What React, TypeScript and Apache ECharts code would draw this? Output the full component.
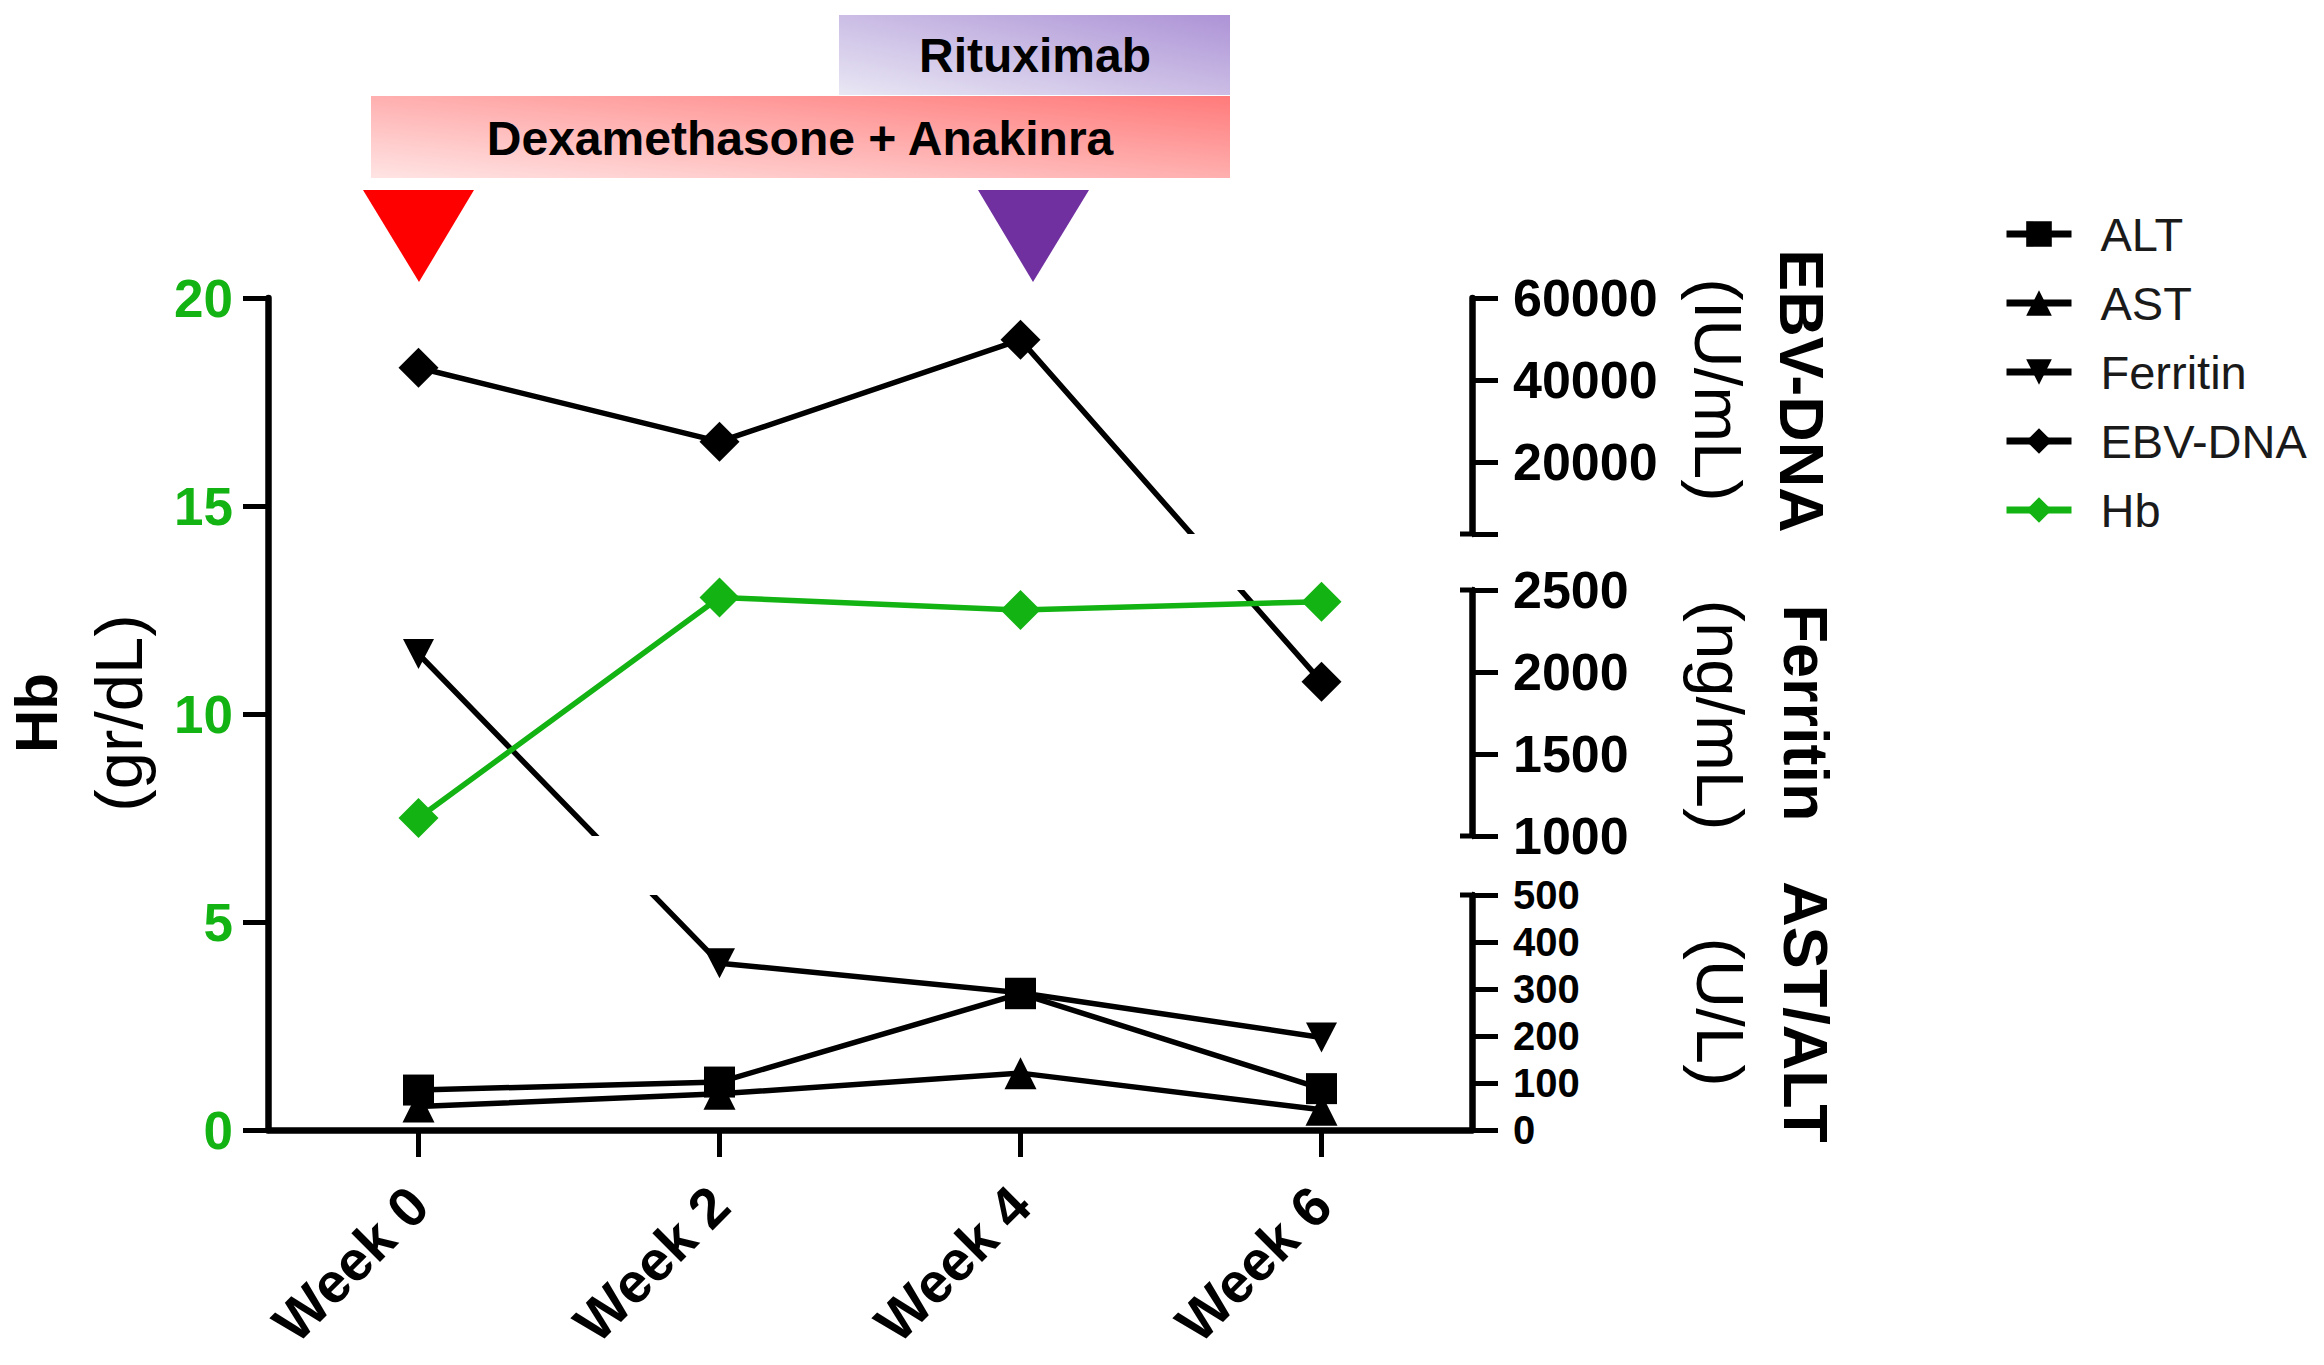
import React, { useEffect, useRef } from "react";
import * as echarts from "echarts";

// ---------------- data ----------------
const CATEGORIES = ["Week 0", "Week 2", "Week 4", "Week 6"];
const HB_VALUES = [7.5, 12.8, 12.5, 12.7];
const ALT_VALUES = [85, 102, 290, 88];
const AST_VALUES = [50, 77, 121, 43];
const FERRITIN_VALUES = [2110, 355, 292, 197];
const EBV_VALUES = [43000, 25000, 49800, 1940];

const HB_RANGE = { min: 0, max: 20, interval: 5 };
const LIVER_RANGE = { min: 0, max: 500 };
const LIVER_TICKS = [0, 100, 200, 300, 400, 500];
const LIVER_LABELS_EVEN = [0, 200, 400];
const LIVER_LABELS_ODD = [100, 300, 500];
const FERRITIN_RANGE = { min: 1000, max: 2500, interval: 500 };
const EBV_RANGE = { min: 2500, max: 60000 };
const EBV_TICKS = [2500, 20000, 40000, 60000];
const EBV_LABELS = [20000, 40000, 60000];

// ---------------- layout ----------------
const W = 2324;
const H = 1365;
const FONT = "'Liberation Sans', Arial, Helvetica, sans-serif";
const GREEN = "#12B312";
const PLOT = { left: 268, right: 1472, top: 298, bottom: 1130 };
const PLOT_W = PLOT.right - PLOT.left;
const PLOT_H = PLOT.bottom - PLOT.top;

// segmented right axis: value range -> screen band
const SEGMENTS = [
  { ...LIVER_RANGE, top: 895, bottom: 1130 },
  { ...FERRITIN_RANGE, top: 590, bottom: 836 },
  { ...EBV_RANGE, top: 298, bottom: 534 },
];

// maps a right-axis value onto the continuous (hidden) segmented scale
function segmentedScale(v: number): number {
  for (let i = 0; i < SEGMENTS.length; i++) {
    const s = SEGMENTS[i];
    const lo = PLOT.bottom - s.bottom;
    const hi = PLOT.bottom - s.top;
    if (v <= s.max || i === SEGMENTS.length - 1) {
      if (v >= s.min || i === 0) {
        return lo + ((v - s.min) / (s.max - s.min)) * (hi - lo);
      }
      const p = SEGMENTS[i - 1];
      const plo = PLOT.bottom - p.top;
      return plo + ((v - p.max) / (s.min - p.max)) * (lo - plo);
    }
  }
  return 0;
}

const TICK_W = 5;
const AXIS_W = 6.5;
const plain = (v: number) => String(v);

function labelStyle(fontSize: number, extra: any = {}) {
  return {
    show: true,
    margin: 41,
    color: "#000",
    fontSize,
    fontWeight: "bold",
    fontFamily: FONT,
    formatter: plain,
    hideOverlap: false,
    showMinLabel: true,
    showMaxLabel: true,
    ...extra,
  };
}

function rightAxis(gridIndex: number, seg: any, extra: any) {
  return {
    type: "value",
    gridIndex,
    position: "right",
    min: seg.min,
    max: seg.max,
    axisLine: { show: true, onZero: false, lineStyle: { color: "#000", width: AXIS_W } },
    axisTick: { show: true, inside: false, length: 26, lineStyle: { color: "#000", width: TICK_W } },
    axisLabel: labelStyle(52),
    splitLine: { show: false },
    ...extra,
  };
}

function series(name: string, values: number[], symbol: string, size: any, color: string, right: boolean, z: number) {
  return {
    type: "line",
    name,
    xAxisIndex: 0,
    yAxisIndex: right ? 1 : 0,
    data: right ? values.map(segmentedScale) : values,
    symbol,
    symbolSize: size,
    showSymbol: true,
    clip: true,
    z,
    itemStyle: { color, opacity: 1 },
    lineStyle: { color, width: 5.5 },
    emphasis: { disabled: true },
  };
}

function vText(text: string, x: number, y: number, rot: number, bold: boolean, size: number) {
  return {
    type: "text",
    x,
    y,
    rotation: rot,
    z: 10,
    style: {
      text,
      fill: "#000",
      fontSize: size,
      fontWeight: bold ? "bold" : "normal",
      fontFamily: FONT,
      align: "center",
      verticalAlign: "middle",
      textAlign: "center",
      textVerticalAlign: "middle",
    },
  };
}

function buildOption() {
  const grids = [
    { left: PLOT.left, top: PLOT.top, width: PLOT_W, height: PLOT_H, containLabel: false, outerBoundsMode: "none" },
    ...SEGMENTS.map((s) => ({
      left: PLOT.left,
      top: s.top,
      width: PLOT_W,
      height: s.bottom - s.top,
      containLabel: false,
      outerBoundsMode: "none",
    })),
  ];

  const gaps: any[] = [];
  for (let i = 0; i < SEGMENTS.length - 1; i++) {
    const lower = SEGMENTS[i];
    const upper = SEGMENTS[i + 1];
    gaps.push({
      type: "rect",
      z: 3,
      shape: { x: PLOT.left + 4, y: upper.bottom, width: PLOT_W - 4, height: lower.top - upper.bottom },
      style: { fill: "#ffffff" },
    });
  }
  const caps: any[] = [];
  const capYs = [SEGMENTS[0].top, SEGMENTS[1].bottom, SEGMENTS[1].top, SEGMENTS[2].bottom];
  capYs.forEach((y) =>
    caps.push({
      type: "line",
      z: 6,
      shape: { x1: PLOT.right - 12, y1: y, x2: PLOT.right + 3, y2: y },
      style: { stroke: "#000", lineWidth: TICK_W },
    })
  );

  return {
    animation: false,
    backgroundColor: "#ffffff",
    textStyle: { fontFamily: FONT },
    grid: grids,
    xAxis: [
      {
        type: "category",
        gridIndex: 0,
        data: CATEGORIES,
        boundaryGap: true,
        axisLine: { show: true, onZero: false, lineStyle: { color: "#000", width: AXIS_W } },
        axisTick: { show: true, alignWithLabel: true, inside: false, length: 27, lineStyle: { color: "#000", width: TICK_W } },
        axisLabel: {
          interval: 0,
          rotate: 45,
          margin: 66,
          color: "#000",
          fontSize: 56,
          fontWeight: "bold",
          fontFamily: FONT,
        },
        splitLine: { show: false },
      },
      ...SEGMENTS.map((_, i) => ({ type: "category", gridIndex: i + 1, data: CATEGORIES, show: false })),
    ],
    yAxis: [
      {
        type: "value",
        gridIndex: 0,
        position: "left",
        min: HB_RANGE.min,
        max: HB_RANGE.max,
        interval: HB_RANGE.interval,
        axisLine: { show: true, onZero: false, lineStyle: { color: "#000", width: AXIS_W } },
        axisTick: { show: true, inside: false, length: 25, lineStyle: { color: "#000", width: TICK_W } },
        axisLabel: {
          margin: 35,
          color: GREEN,
          fontSize: 53,
          fontWeight: "bold",
          fontFamily: FONT,
          formatter: plain,
          showMinLabel: true,
          showMaxLabel: true,
        },
        splitLine: { show: false },
      },
      {
        type: "value",
        gridIndex: 0,
        position: "right",
        min: 0,
        max: PLOT_H,
        show: false,
        splitLine: { show: false },
      },
      // AST/ALT segment: axis line, all ticks, even labels
      rightAxis(1, SEGMENTS[0], {
        axisTick: { show: true, inside: false, length: 26, customValues: LIVER_TICKS, lineStyle: { color: "#000", width: TICK_W } },
        axisLabel: labelStyle(40, { customValues: LIVER_LABELS_EVEN, lineHeight: 40 }),
      }),
      // AST/ALT segment: odd labels (second layer, same scale)
      rightAxis(1, SEGMENTS[0], {
        axisLine: { show: false },
        axisTick: { show: false },
        axisLabel: labelStyle(40, { customValues: LIVER_LABELS_ODD, lineHeight: 40 }),
      }),
      rightAxis(2, SEGMENTS[1], { interval: FERRITIN_RANGE.interval }),
      rightAxis(3, SEGMENTS[2], {
        axisTick: { show: true, inside: false, length: 26, customValues: EBV_TICKS, lineStyle: { color: "#000", width: TICK_W } },
        axisLabel: labelStyle(52, { customValues: EBV_LABELS }),
      }),
    ],
    legend: {
      show: true,
      orient: "vertical",
      left: 1998,
      top: 205,
      itemWidth: 65,
      itemHeight: 32,
      itemGap: 21,
      selectedMode: false,
      lineStyle: { width: 7 },
      data: ["ALT", "AST", "Ferritin", "EBV-DNA", "Hb"],
      textStyle: { fontSize: 47, color: "#1a1a1a", fontFamily: FONT, lineHeight: 48, padding: [0, 0, 0, 24] },
    },
    series: [
      series("ALT", ALT_VALUES, "rect", 31, "#000", true, 2),
      series("AST", AST_VALUES, "triangle", 32, "#000", true, 2),
      series("Ferritin", FERRITIN_VALUES, "path://M0,0L2,0L1,2Z", [31, 30], "#000", true, 2),
      series("EBV-DNA", EBV_VALUES, "diamond", [40, 40], "#000", true, 2),
      series("Hb", HB_VALUES, "diamond", [40, 40], GREEN, false, 5),
    ],
    graphic: {
      elements: [
        ...gaps,
        ...caps,
        // treatment banners
        {
          type: "rect",
          z: 1,
          shape: { x: 839, y: 15, width: 391, height: 80 },
          style: {
            fill: new echarts.graphic.LinearGradient(0, 1, 1, 0, [
              { offset: 0, color: "#E9E7F4" },
              { offset: 1, color: "#AD93D6" },
            ]),
          },
        },
        {
          type: "rect",
          z: 1,
          shape: { x: 371, y: 96, width: 859, height: 82 },
          style: {
            fill: new echarts.graphic.LinearGradient(0, 1, 1, 0, [
              { offset: 0, color: "#FFE4E4" },
              { offset: 1, color: "#FF7A7A" },
            ]),
          },
        },
        {
          type: "text",
          z: 2,
          x: 1035,
          y: 55,
          style: {
            text: "Rituximab",
            fill: "#000",
            fontSize: 48,
            fontWeight: "bold",
            fontFamily: FONT,
            align: "center",
            verticalAlign: "middle",
            textAlign: "center",
            textVerticalAlign: "middle",
          },
        },
        {
          type: "text",
          z: 2,
          x: 800,
          y: 138,
          style: {
            text: "Dexamethasone + Anakinra",
            fill: "#000",
            fontSize: 48,
            fontWeight: "bold",
            fontFamily: FONT,
            align: "center",
            verticalAlign: "middle",
            textAlign: "center",
            textVerticalAlign: "middle",
          },
        },
        { type: "polygon", z: 2, shape: { points: [[363, 190], [474, 190], [419, 282]] }, style: { fill: "#FF0000" } },
        { type: "polygon", z: 2, shape: { points: [[978, 190], [1089, 190], [1033, 282]] }, style: { fill: "#7030A0" } },
        // axis titles
        vText("Hb", 36, 713, Math.PI / 2, true, 60),
        vText("(gr/dL)", 118, 713, Math.PI / 2, false, 67),
        vText("EBV-DNA", 1802, 391, -Math.PI / 2, true, 63),
        vText("(IU/mL)", 1718, 390, -Math.PI / 2, false, 67),
        vText("Ferritin", 1806, 713, -Math.PI / 2, true, 63),
        vText("(ng/mL)", 1720, 715, -Math.PI / 2, false, 67),
        vText("AST/ALT", 1806, 1012, -Math.PI / 2, true, 63),
        vText("(U/L)", 1720, 1012, -Math.PI / 2, false, 67),
      ],
    },
  };
}

export default function App() {
  const ref = useRef<HTMLDivElement>(null);
  useEffect(() => {
    document.body.style.margin = "0";
    const el = ref.current;
    if (!el) return;
    const chart = echarts.init(el, null, { renderer: "svg", width: W, height: H });
    chart.setOption(buildOption() as any);
    return () => {
      chart.dispose();
    };
  }, []);
  return <div ref={ref} style={{ width: W, height: H, background: "#fff", overflow: "hidden" }} />;
}
